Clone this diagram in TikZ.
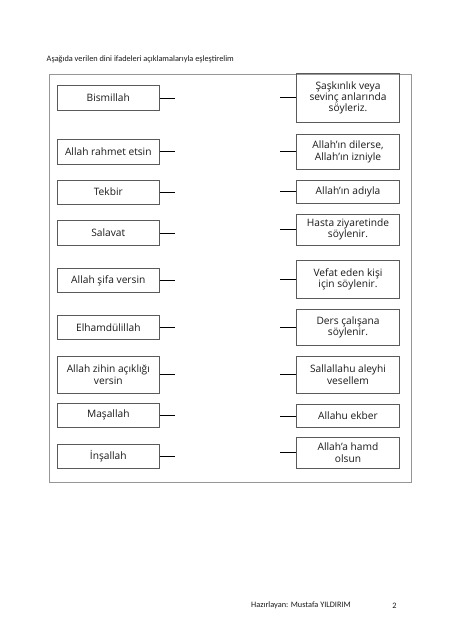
\documentclass[tikz,border=0pt]{standalone}
\usepackage{fontspec}
\setmainfont{Open Sans}
\newfontfamily\calibri{Carlito}

\definecolor{cerceve}{RGB}{150,150,150}
\definecolor{kutugri}{RGB}{90,90,90}
\definecolor{murekkep}{RGB}{25,25,25}

\tikzset{
  kutu/.style={draw=kutugri, line width=0.6pt, text=murekkep, minimum width=102pt,
    align=center, inner sep=1pt, font=\fontsize{10.2}{11.4}\selectfont},
  cizgi/.style={line width=0.8pt, black},
}

\begin{document}
\begin{tikzpicture}[x=1pt, y=-1pt]
    \useasboundingbox (0,0) rectangle (452,640);

    % Başlık ve dış çerçeve
    \node[anchor=west, text=murekkep, font=\calibri\fontsize{8.3}{9}\selectfont, inner sep=0pt] (baslik) at (46.5, 59.7) {Aşağıda verilen dini ifadeleri açıklamalarıyla eşleştirelim};
    \draw[cerceve, line width=0.7pt] (49, 74) rectangle (411, 482);

    % Sol sütun: ifadeler
    \node[kutu, minimum height=24.3pt] (bismillah) at (108.3, 97.9) {Bismillah};
    \node[kutu, minimum height=24.3pt] (rahmet) at (108.3, 151.7) {Allah rahmet etsin};
    \node[kutu, minimum height=24.3pt] (tekbir) at (108.3, 192) {Tekbir};
    \node[kutu, minimum height=24.3pt] (salavat) at (108.3, 232.9) {Salavat};
    \node[kutu, minimum height=24.3pt] (sifa) at (108.3, 280.5) {Allah şifa versin};
    \node[kutu, minimum height=24.3pt] (elhamdulillah) at (108.3, 327.5) {Elhamdülillah};
    \node[kutu, minimum height=37.3pt] (zihin) at (108.3, 374.7) {Allah zihin açıklığı\\versin};
    \node[kutu, minimum height=24.3pt] (masallah) at (108.3, 415) {Maşallah};
    \node[kutu, minimum height=24.3pt] (insallah) at (108.3, 456.2) {İnşallah};

    % Sol sütunun bağlantı çizgileri
    \draw[cizgi] (bismillah.east) -- ++(15,0) coordinate (bismillah-uc);
    \draw[cizgi] (rahmet.east) -- ++(15,0) coordinate (rahmet-uc);
    \draw[cizgi] (tekbir.east) -- ++(15,0) coordinate (tekbir-uc);
    \draw[cizgi] (salavat.east) -- ++(15,0) coordinate (salavat-uc);
    \draw[cizgi] (sifa.east) -- ++(15,0) coordinate (sifa-uc);
    \draw[cizgi] (elhamdulillah.east) -- ++(15,0) coordinate (elhamdulillah-uc);
    \draw[cizgi] (zihin.east) -- ++(15,0) coordinate (zihin-uc);
    \draw[cizgi] (masallah.east) -- ++(15,0) coordinate (masallah-uc);
    \draw[cizgi] (insallah.east) -- ++(15,0) coordinate (insallah-uc);

    % Sağ sütun: açıklamalar
    \node[kutu, minimum width=102.6pt, minimum height=49pt] (saskinlik) at (348, 97.8) {Şaşkınlık veya\\sevinç anlarında\\söyleriz.};
    \node[kutu, minimum width=102.6pt, minimum height=35pt] (dilerse) at (348, 151.8) {Allah'ın dilerse,\\Allah'ın izniyle};
    \node[kutu, minimum width=102.6pt, minimum height=23.3pt] (adiyla) at (348, 191.7) {Allah'ın adıyla};
    \node[kutu, minimum width=102.6pt, minimum height=31pt] (hasta) at (348, 229.5) {Hasta ziyaretinde\\söylenir.};
    \node[kutu, minimum width=102.6pt, minimum height=37.6pt] (vefat) at (348, 279.5) {Vefat eden kişi\\için söylenir.};
    \node[kutu, minimum width=102.6pt, minimum height=35.7pt] (ders) at (348, 327.2) {Ders çalışana\\söylenir.};
    \node[kutu, minimum width=102.6pt, minimum height=37.3pt] (sallallahu) at (348, 374.7) {Sallallahu aleyhi\\vesellem};
    \node[kutu, minimum width=102.6pt, minimum height=23.7pt] (ekber) at (348, 415.9) {Allahu ekber};
    \node[kutu, minimum width=102.6pt, minimum height=31pt] (hamd) at (348, 452.8) {Allah'a hamd\\olsun};

    % Sağ sütunun bağlantı çizgileri
    \draw[cizgi] (saskinlik.west) -- ++(-16,0) coordinate (saskinlik-uc);
    \draw[cizgi] (dilerse.west) -- ++(-16,0) coordinate (dilerse-uc);
    \draw[cizgi] (adiyla.west) -- ++(-16,0) coordinate (adiyla-uc);
    \draw[cizgi] (hasta.west) -- ++(-16,0) coordinate (hasta-uc);
    \draw[cizgi] (vefat.west) -- ++(-16,0) coordinate (vefat-uc);
    \draw[cizgi] (ders.west) -- ++(-16,0) coordinate (ders-uc);
    \draw[cizgi] (sallallahu.west) -- ++(-16,0) coordinate (sallallahu-uc);
    \draw[cizgi] (ekber.west) -- ++(-16,0) coordinate (ekber-uc);
    \draw[cizgi] (hamd.west) -- ++(-16,0) coordinate (hamd-uc);

    % Alt bilgi
    \node[anchor=west, text=murekkep, font=\calibri\fontsize{8.3}{9}\selectfont, inner sep=0pt] (hazirlayan) at (251, 605.5) {Hazırlayan: Mustafa YILDIRIM};
    \node[text=murekkep, font=\calibri\fontsize{8.3}{9}\selectfont, inner sep=0pt] (sayfa) at (394.5, 605.5) {2};
\end{tikzpicture}
\end{document}
